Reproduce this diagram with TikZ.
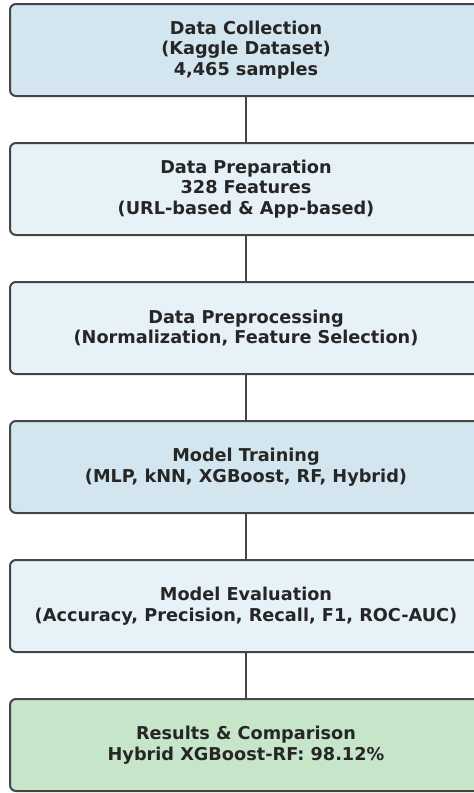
\documentclass[tikz,border=0pt]{standalone}
\usepackage{fontspec}
\setmainfont{DejaVu Sans}
\begin{document}
\begin{tikzpicture}[x=1pt,y=1pt,
  stage/.style={draw=black!73, line width=2pt, rounded corners=6pt, minimum width=472pt, minimum height=92pt, align=center, font=\fontsize{17.7}{20.5}\selectfont\bfseries, text=black!85, inner sep=0pt},
  link/.style={draw=black!73, line width=2pt}]
\useasboundingbox (0,0) rectangle (474,-793);
\definecolor{cA}{HTML}{D3E6EF}
\definecolor{cB}{HTML}{E6F1F8}
\definecolor{cG}{HTML}{C7E5C8}
\clip (0,0) rectangle (474,-793);
\node[stage, fill=cA] (n1) at (246,-50) {Data Collection\\(Kaggle Dataset)\\4,465 samples};
\node[stage, fill=cB] (n2) at (246,-189) {Data Preparation\\328 Features\\(URL-based \& App-based)};
\node[stage, fill=cB] (n3) at (246,-328) {Data Preprocessing\\(Normalization, Feature Selection)};
\node[stage, fill=cA] (n4) at (246,-467) {Model Training\\(MLP, kNN, XGBoost, RF, Hybrid)};
\node[stage, fill=cB] (n5) at (246,-606) {Model Evaluation\\(Accuracy, Precision, Recall, F1, ROC-AUC)};
\node[stage, fill=cG] (n6) at (246,-745) {Results \& Comparison\\Hybrid XGBoost-RF: 98.12\%};
\draw[link] (n1) -- (n2);
\draw[link] (n2) -- (n3);
\draw[link] (n3) -- (n4);
\draw[link] (n4) -- (n5);
\draw[link] (n5) -- (n6);
\end{tikzpicture}
\end{document}
